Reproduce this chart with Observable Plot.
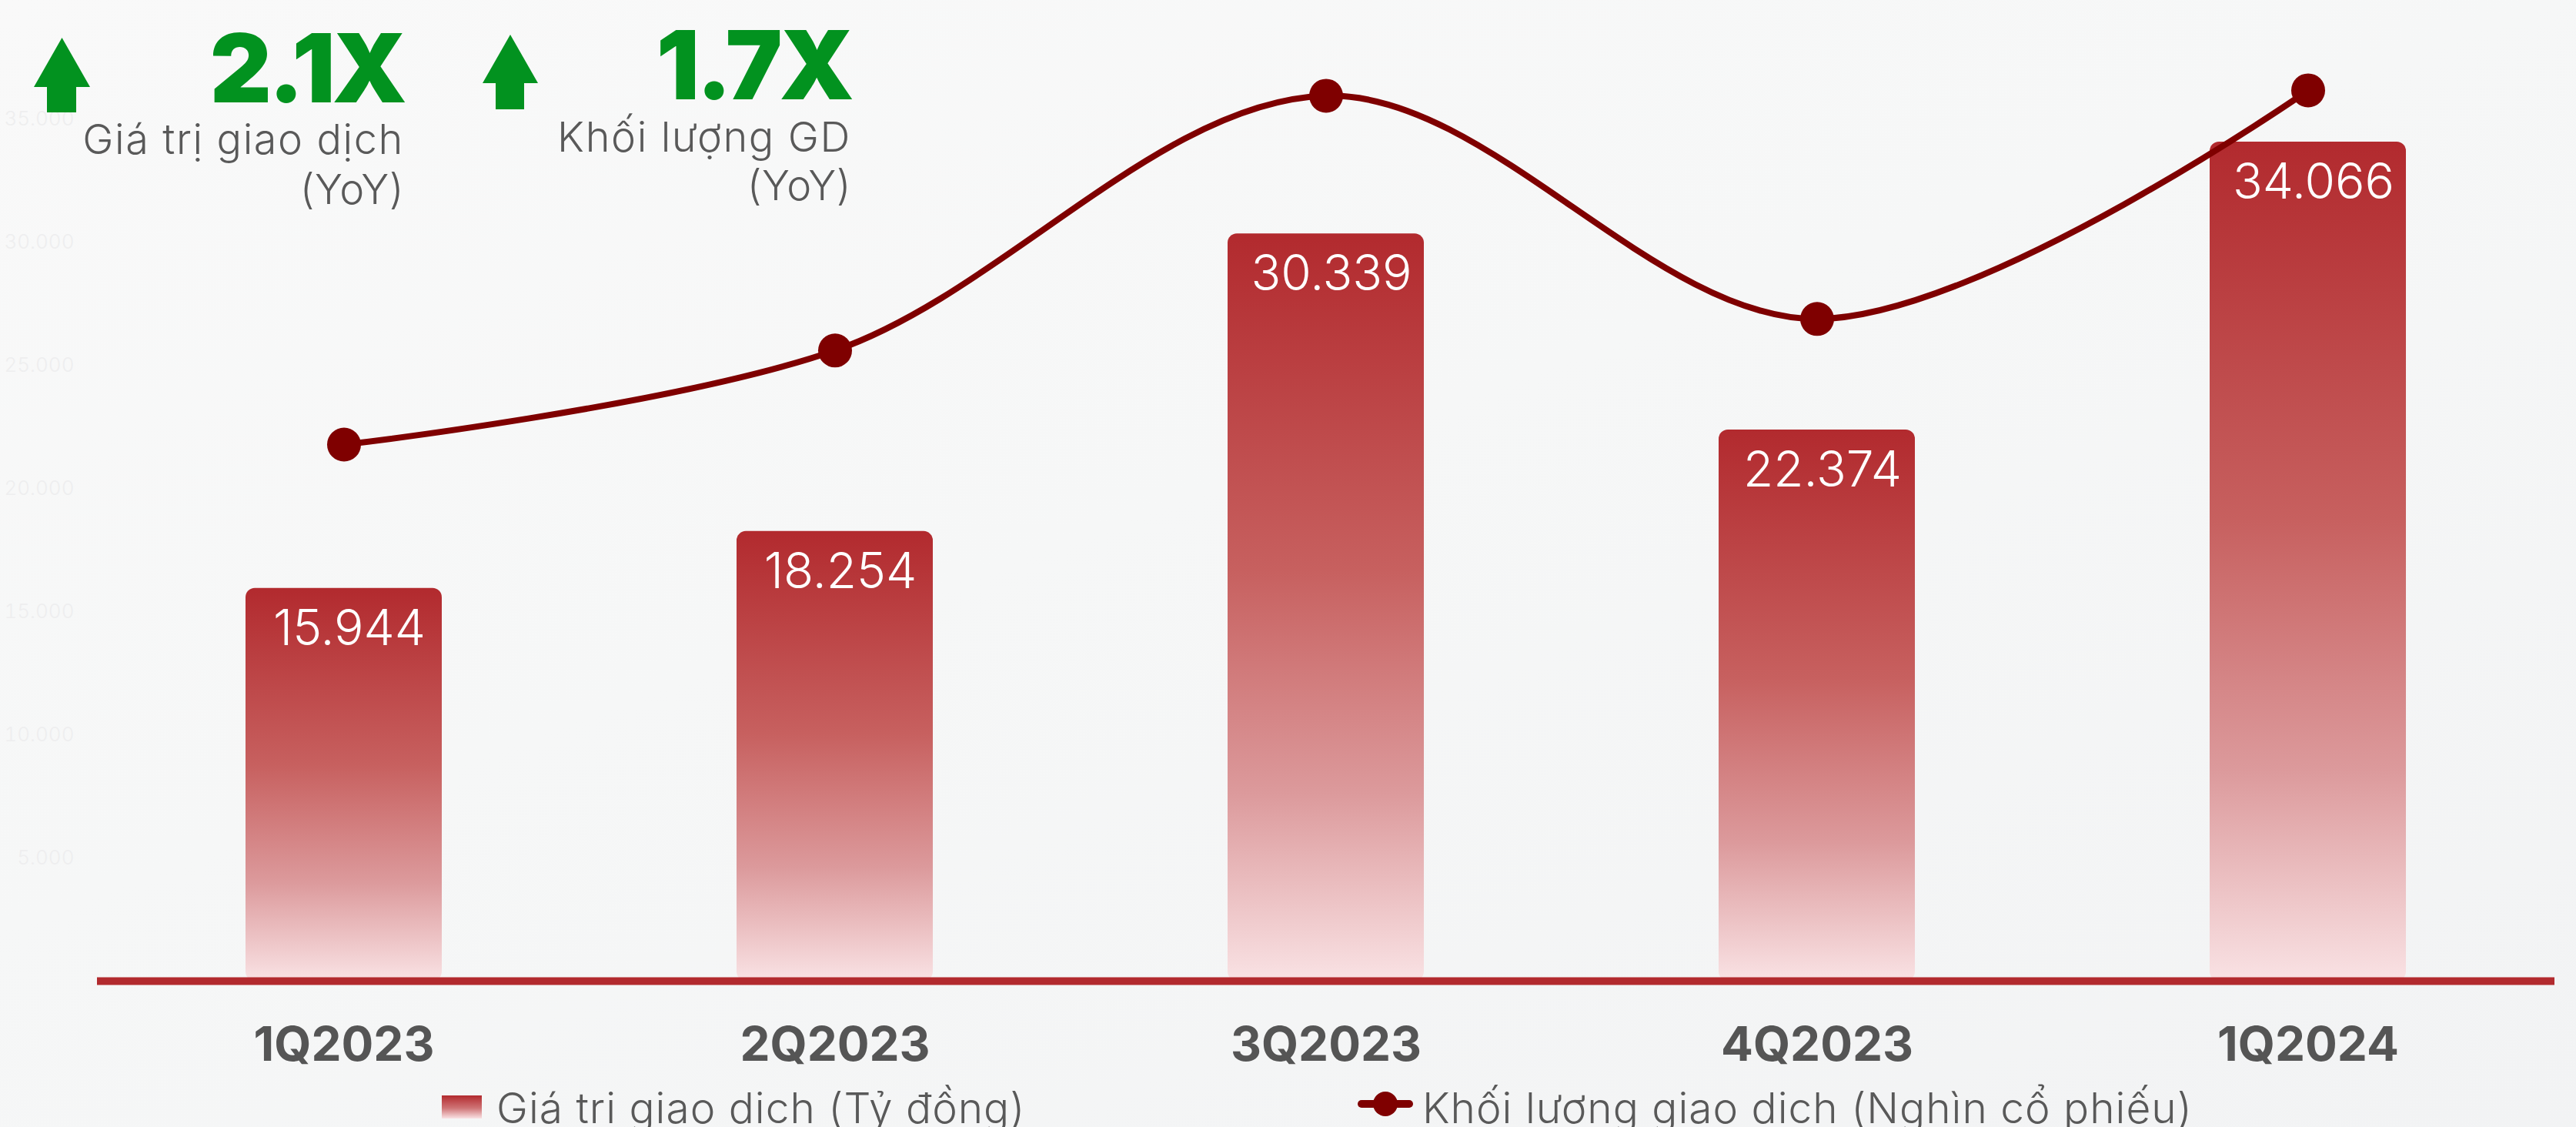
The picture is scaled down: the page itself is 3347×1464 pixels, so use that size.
<!DOCTYPE html>
<html>
<head>
<meta charset="utf-8">
<script src="https://cdn.jsdelivr.net/npm/d3@7"></script>
<script src="https://cdn.jsdelivr.net/npm/@observablehq/plot@0.6"></script>
<style>
  html, body { margin: 0; padding: 0; }
  body { width: 3347px; height: 1464px; overflow: hidden; font-family: Inter, "Noto Sans", sans-serif; }
  #wrap { position: relative; width: 3347px; height: 1464px;
          background: linear-gradient(160deg, #f9f9f9 0%, #f6f7f7 45%, #f2f3f4 100%); }
  #chart { position: absolute; left: 0; top: 0; }
  #kpi { position: absolute; left: 0; top: 0; }
  #legend { position: absolute; left: 0; top: 1390px; width: 3347px; height: 74px; }
  .lg-item { position: absolute; font-size: 55px; font-weight: 300; letter-spacing: 1px; color: #595959; white-space: nowrap; line-height: 1; }
</style>
</head>
<body>
<div id="wrap">
  <div id="chart"></div>
  <svg id="kpi" width="1200" height="300"></svg>
  <div id="legend"></div>
</div>
<script>
// ---- data ----
const quarters = ["1Q2023", "2Q2023", "3Q2023", "4Q2023", "1Q2024"];
const tradeValue = [15944, 18254, 30339, 22374, 34066];          // Giá trị giao dịch (Tỷ đồng)
const tradeVolume = [1089000, 1280000, 1797000, 1344000, 1808000]; // Khối lượng giao dịch (Nghìn cổ phiếu), estimated
const yTicks = [5000, 10000, 15000, 20000, 25000, 30000, 35000];
const valueAxisMax = 39000;     // left (value) axis top
const volumeAxisMax = 1950000;  // hidden right (volume) axis top
const kpiValues = ["2.1X", "1.7X"];
const kpiLabels = [["Giá trị giao dịch", "(YoY)"], ["Khối lượng GD", "(YoY)"]];
const legendLabels = ["Giá trị giao dịch (Tỷ đồng)", "Khối lượng giao dịch (Nghìn cổ phiếu)"];

const fmt = v => d3.format(",")(v).replace(/,/g, ".");
const rows = quarters.map((q, i) => ({
  q, value: tradeValue[i], volume: tradeVolume[i],
  volumeOnValueAxis: tradeVolume[i] * valueAxisMax / volumeAxisMax
}));

const RED = "#b22a2e", DARK = "#7f0000";

const svg = Plot.plot({
  width: 3347, height: 1412,
  marginLeft: 126, marginRight: 28, marginTop: 26, marginBottom: 138,
  style: { background: "transparent", fontFamily: "Inter, 'Noto Sans', sans-serif" },
  x: { domain: quarters, paddingInner: 0.6, paddingOuter: 0.3, label: null },
  y: { domain: [0, valueAxisMax], label: null },
  marks: [
    Plot.axisY(yTicks, { tickSize: 0, tickPadding: 30, tickFormat: fmt, fontSize: 26, fontWeight: 300, fill: "#eeeeef", label: null }),
    Plot.axisX({ tickSize: 0, tickPadding: 59, fontSize: 62, fontWeight: 700, fill: "#555555", label: null }),
    Plot.barY(rows, { x: "q", y: "value", fill: "url(#barGrad)", rx: 12 }),
    Plot.ruleY([0], { stroke: RED, strokeWidth: 10 }),
    Plot.text(rows, { x: "q", y: "value", text: d => fmt(d.value), fill: "white", fontSize: 64, fontWeight: 300,
                      lineAnchor: "top", dy: 28, dx: 7 }),
    Plot.line(rows, { x: "q", y: "volumeOnValueAxis", stroke: DARK, strokeWidth: 8, curve: "catmull-rom" }),
    Plot.dot(rows, { x: "q", y: "volumeOnValueAxis", r: 22, fill: DARK, stroke: "none" })
  ]
});

d3.select(svg).insert("defs", ":first-child").html(`
  <linearGradient id="barGrad" x1="0" y1="0" x2="0" y2="1">
    <stop offset="0" stop-color="#b22a2e"/>
    <stop offset="0.45" stop-color="#c7605f"/>
    <stop offset="0.75" stop-color="#dc9a9c"/>
    <stop offset="1" stop-color="#f9e2e4"/>
  </linearGradient>`);
document.getElementById("chart").appendChild(svg);

// ---- KPI annotations (top-left) ----
const kpi = d3.select("#kpi");
const kpiPos = [
  { ax: 44, aw: 73, apex: 49, head: 113, sx: 61, sw: 38, bottom: 146, right: 525, big: 133, l1: 200, l2: 265 },
  { ax: 627, aw: 72, apex: 45, head: 108, sx: 644, sw: 37, bottom: 142, right: 1106, big: 129, l1: 197, l2: 260 }
];
kpiPos.forEach((p, i) => {
  kpi.append("polygon")
    .attr("points", [[p.ax, p.head], [p.ax + p.aw / 2, p.apex], [p.ax + p.aw, p.head],
                     [p.sx + p.sw, p.head], [p.sx + p.sw, p.bottom], [p.sx, p.bottom], [p.sx, p.head]].join(" "))
    .attr("fill", "#02921f");
  kpi.append("text").attr("x", p.right).attr("y", p.big).attr("text-anchor", "end")
    .attr("font-family", "Inter, sans-serif").attr("font-weight", 900).attr("font-size", 124)
    .attr("fill", "#02921f").attr("letter-spacing", -4).text(kpiValues[i]);
  kpiLabels[i].forEach((t, j) => {
    kpi.append("text").attr("x", p.right).attr("y", j === 0 ? p.l1 : p.l2).attr("text-anchor", "end")
      .attr("font-family", "Inter, sans-serif").attr("font-weight", 300).attr("font-size", 54)
      .attr("letter-spacing", j === 0 ? 1.6 : 0.5)
      .attr("fill", "#595959").text(t);
  });
});

// ---- legend ----
const legend = d3.select("#legend");
legend.append("div").style("position", "absolute").style("left", "574px").style("top", "33px")
  .style("width", "52px").style("height", "30px")
  .style("background", "linear-gradient(180deg, #b22a2e 0%, #cf7476 55%, #f9e2e4 100%)");
legend.append("div").attr("class", "lg-item").style("left", "645px").style("top", "22px").text(legendLabels[0]);
const lm = legend.append("svg").style("position", "absolute").style("left", "1760px").style("top", "20px")
  .attr("width", 80).attr("height", 50);
lm.append("line").attr("x1", 9).attr("x2", 71).attr("y1", 24).attr("y2", 24)
  .attr("stroke", DARK).attr("stroke-width", 10).attr("stroke-linecap", "round");
lm.append("circle").attr("cx", 40).attr("cy", 24).attr("r", 16).attr("fill", DARK);
legend.append("div").attr("class", "lg-item").style("left", "1848px").style("top", "22px").text(legendLabels[1]);
</script>
</body>
</html>
